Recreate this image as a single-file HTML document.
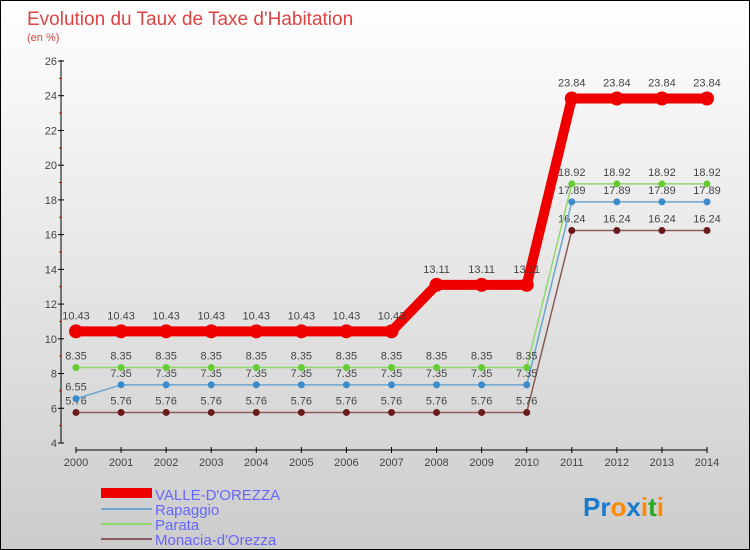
<!DOCTYPE html>
<html><head><meta charset="utf-8"><style>
body{margin:0}
#c{width:748px;height:548px;border:1px solid #000;background:linear-gradient(#fff,#ccc);position:relative;font-family:"Liberation Sans",sans-serif}
</style></head><body>
<div id="c">
<svg id="s" width="748" height="548" style="position:absolute;left:0;top:0">
<text x="26" y="24" font-size="19" fill="#d44">Evolution du Taux de Taxe d'Habitation</text>
<text x="26" y="40" font-size="11" fill="#d44">(en %)</text>
<line x1="60" y1="59" x2="60" y2="442" stroke="#000"/>
<line x1="75" y1="449" x2="706" y2="449" stroke="#000"/>
<g id="ax"></g><g id="series"></g>
<rect x="100" y="487" width="51" height="10" fill="#e00"/>
<line x1="100" y1="508" x2="151" y2="508" stroke="#6aa6d0" stroke-width="2"/>
<line x1="100" y1="523" x2="151" y2="523" stroke="#8fd86a" stroke-width="2"/>
<line x1="100" y1="538" x2="151" y2="538" stroke="#8b5a5a" stroke-width="2"/>
<g font-size="15" fill="#66f">
<text x="154" y="499">VALLE-D'OREZZA</text>
<text x="154" y="514">Rapaggio</text>
<text x="154" y="529">Parata</text>
<text x="154" y="544">Monacia-d'Orezza</text>
</g>
<text x="582" y="515" font-size="26" font-weight="bold"><tspan fill="#1a7acc">Pr</tspan><tspan fill="#f80">o</tspan><tspan fill="#1a7acc">x</tspan><tspan fill="#f80">i</tspan><tspan fill="#2a2">t</tspan><tspan fill="#f80">i</tspan></text>
</svg>
</div>
<script>
const years=[2000,2001,2002,2003,2004,2005,2006,2007,2008,2009,2010,2011,2012,2013,2014];
const yTicks=[4,6,8,10,12,14,16,18,20,22,24,26];
const valle=[10.43,10.43,10.43,10.43,10.43,10.43,10.43,10.43,13.11,13.11,13.11,23.84,23.84,23.84,23.84];
const rapaggio=[6.55,7.35,7.35,7.35,7.35,7.35,7.35,7.35,7.35,7.35,7.35,17.89,17.89,17.89,17.89];
const parata=[8.35,8.35,8.35,8.35,8.35,8.35,8.35,8.35,8.35,8.35,8.35,18.92,18.92,18.92,18.92];
const monacia=[5.76,5.76,5.76,5.76,5.76,5.76,5.76,5.76,5.76,5.76,5.76,16.24,16.24,16.24,16.24];
const NS="http://www.w3.org/2000/svg";
const X=i=>75+i*(631/(years.length-1));
const Y=v=>442-(v-4)*(382/22);
function mk(t,a,p){const e=document.createElementNS(NS,t);for(const k in a)e.setAttribute(k,a[k]);p.appendChild(e);return e;}
const ax=document.getElementById('ax');
yTicks.forEach(v=>{
 const l=mk('line',{x1:57,x2:63,y1:Y(v),y2:Y(v),stroke:'#000'},ax);
 
 
 const t=mk('text',{x:56,y:Y(v)+4,'text-anchor':'end','font-size':11,fill:'#444'},ax);t.textContent=v;
 
 
 if(v<26){const m=mk('line',{x1:58,x2:61,y1:Y(v+1),y2:Y(v+1),stroke:'#f00'},ax);
 
 }
});
years.forEach((y,i)=>{
 const l=mk('line',{x1:X(i),x2:X(i),y1:446,y2:452,stroke:'#000'},ax);
 
 
 const t=mk('text',{x:X(i),y:465,'text-anchor':'middle','font-size':11,fill:'#444'},ax);t.textContent=y;
 
 
});
const sg=document.getElementById('series');
function draw(data,name,color,w,r,dot,lblOff){
 const g=mk('g',{},sg);
 
 
 const p=mk('polyline',{points:data.map((v,i)=>X(i)+','+Y(v)).join(' '),fill:'none',stroke:color,'stroke-width':w},g);
 
 
 data.forEach((v,i)=>{
  const c=mk('circle',{cx:X(i),cy:Y(v),r:r,fill:dot},g);
  
  
  const t=mk('text',{x:X(i),y:Y(v)+lblOff,'text-anchor':'middle','font-size':11,fill:'#444'},g);t.textContent=v;
  
  
 });
}
draw(monacia,'monacia','#8b5a5a',1.5,3.5,'#6b1a1a',-8);
draw(rapaggio,'rapaggio','#6aa6d0',1.5,3.5,'#3a8acc',-8);
draw(parata,'parata','#8fd86a',1.5,3.5,'#6c3',-8);
draw(valle,'valle','#e00',10,7,'#e00',-12);
</script>
</body></html>
